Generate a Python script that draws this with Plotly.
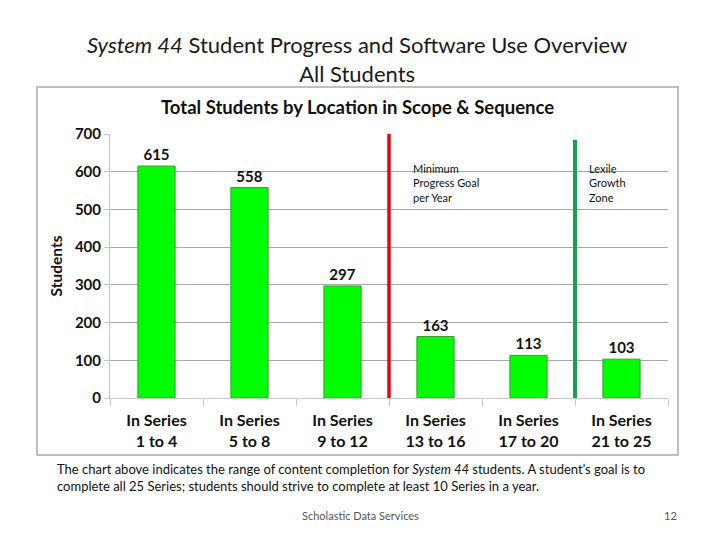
import plotly.graph_objects as go

categories = ["In Series<br>1 to 4", "In Series<br>5 to 8", "In Series<br>9 to 12",
              "In Series<br>13 to 16", "In Series<br>17 to 20", "In Series<br>21 to 25"]
students = [615, 558, 297, 163, 113, 103]
y_ticks = [0, 100, 200, 300, 400, 500, 600, 700]
red_line_pos = 2.5
green_line_pos = 4.5
green_line_top = 685

FONT = "Lato"

# plot area in screen pixels: x 110..668, y 134..398
def px(sx):
    return (sx - 110) / 558

def py(sy):
    return (398 - sy) / 264

fig = go.Figure()
fig.add_trace(go.Bar(
    x=categories, y=students, width=0.4,
    marker=dict(color="#00FF00", line=dict(color="#3a9a3a", width=1)),
    text=["<b>%d</b>" % v for v in students], textposition="outside",
    textfont=dict(family=FONT, size=15, color="#111"),
    cliponaxis=False,
))

fig.update_layout(
    width=712, height=532,
    margin=dict(l=102, r=52, t=126, b=142),
    paper_bgcolor="white", plot_bgcolor="white",
    showlegend=False,
    font=dict(family=FONT, color="#111"),
    xaxis=dict(showgrid=False, showline=True, linecolor="#c8c8c8",
               tickvals=categories, ticktext=["<b>%s</b>" % c for c in categories],
               tickfont=dict(family=FONT, size=16, color="#111"),
               ticks="outside", tickson="boundaries", ticklen=7, tickcolor="#c8c8c8",
               ticklabelstandoff=8),
    yaxis=dict(range=[0, 700], tickvals=y_ticks, ticktext=["<b>%d</b>" % v for v in y_ticks],
               showgrid=True, gridcolor="#a8a8a8", gridwidth=1,
               tickfont=dict(family=FONT, size=15, color="#111"), zeroline=False,
               title=dict(text="<b>Students</b>", font=dict(family=FONT, size=15.5, color="#111"), standoff=8),
               showline=True, linecolor="#c8c8c8", ticks="outside", ticklen=5, tickcolor="#c8c8c8"),
)

# outer chart frame
fig.add_shape(type="rect", xref="paper", yref="paper", x0=px(37), x1=px(678), y0=py(455), y1=py(87),
              line=dict(color="#aaaaaa", width=1.5), layer="below")
# vertical markers
fig.add_shape(type="line", xref="x", yref="y", x0=red_line_pos, x1=red_line_pos, y0=-5, y1=700,
              line=dict(color="#E30613", width=3.5))
fig.add_shape(type="line", xref="x", yref="y", x0=green_line_pos, x1=green_line_pos, y0=0, y1=green_line_top,
              line=dict(color="#16A34F", width=4))

fig.add_annotation(x=red_line_pos, y=632, xref="x", yref="y", xshift=22, xanchor="left", yanchor="top",
                   text="Minimum<br>Progress Goal<br>per Year", showarrow=False, align="left",
                   font=dict(family=FONT, size=11, color="#111"))
fig.add_annotation(x=green_line_pos, y=632, xref="x", yref="y", xshift=12, xanchor="left", yanchor="top",
                   text="Lexile<br>Growth<br>Zone", showarrow=False, align="left",
                   font=dict(family=FONT, size=11, color="#111"))

# chart title
fig.add_annotation(x=px(357), y=py(107), xref="paper", yref="paper", showarrow=False,
                   xanchor="center", yanchor="middle",
                   text="<b>Total Students by Location in Scope &amp; Sequence</b>",
                   font=dict(family=FONT, size=18.5, color="#111"))

# slide title
fig.add_annotation(x=px(357), y=py(59), xref="paper", yref="paper", showarrow=False,
                   xanchor="center", yanchor="middle",
                   text="<i>System 44</i> Student Progress and Software Use Overview<br>All Students",
                   font=dict(family=FONT, size=22, color="#1a1a1a"))

fig.add_annotation(x=px(55), y=py(477), xref="paper", yref="paper", xanchor="left", yanchor="middle",
                   showarrow=False, align="left",
                   text="The chart above indicates the range of content completion for <i>System 44</i> students. A student’s goal is to<br>complete all 25 Series; students should strive to complete at least 10 Series in a year.",
                   font=dict(family=FONT, size=13, color="#111"))
fig.add_annotation(x=px(360), y=py(515), xref="paper", yref="paper", showarrow=False,
                   xanchor="center", yanchor="middle",
                   text="Scholastic Data Services", font=dict(family=FONT, size=11, color="#555"))
fig.add_annotation(x=px(670), y=py(515), xref="paper", yref="paper", showarrow=False,
                   xanchor="center", yanchor="middle",
                   text="12", font=dict(family=FONT, size=11, color="#555"))

fig.write_html("out.html")
